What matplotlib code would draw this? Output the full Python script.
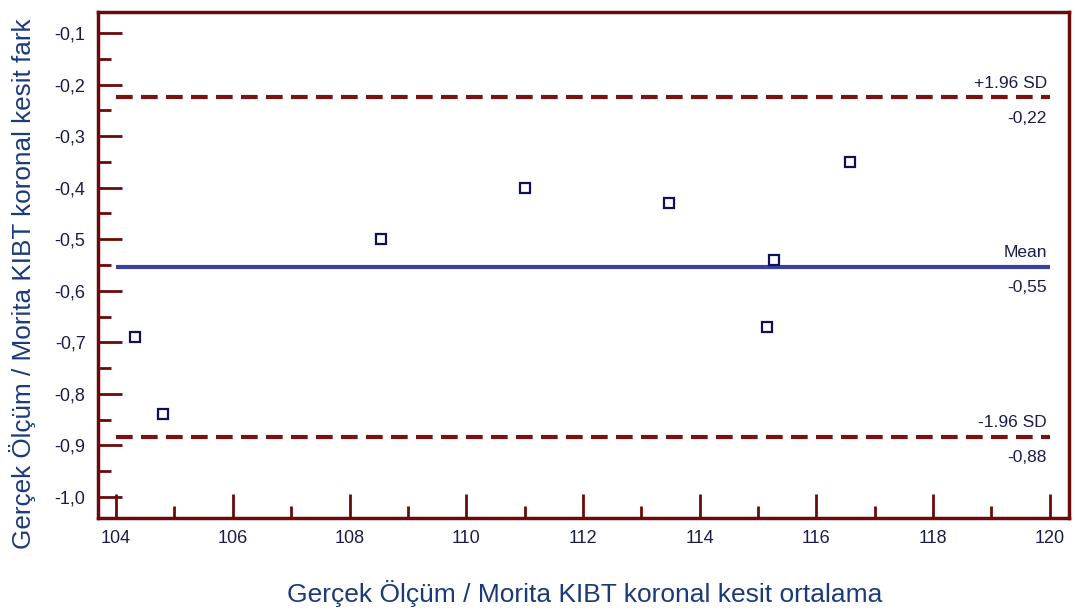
import matplotlib.pyplot as plt
from matplotlib.ticker import MultipleLocator, FuncFormatter

# ortalama (x) ve fark (y) degerleri
ortalama = [104.33, 104.80, 108.54, 111.0, 113.47, 115.15, 115.27, 116.57]
fark = [-0.69, -0.84, -0.50, -0.40, -0.43, -0.67, -0.54, -0.35]

mean_diff = -0.553
upper_loa = -0.224
lower_loa = -0.883
mean_txt = '-0,55'
upper_txt = '-0,22'
lower_txt = '-0,88'

frame_col = '#6a0a0a'
dash_col = '#7a1212'
mean_col = '#3b3f9e'
mark_col = '#10105a'
tick_txt = '#1c1c4c'
label_col = '#1b3a7a'

plt.rcParams['font.family'] = ['Liberation Sans', 'DejaVu Sans']

fig = plt.figure(figsize=(10.75, 6.12), dpi=100)
ax = fig.add_axes([0.0912, 0.1536, 0.9032, 0.8268])

ax.plot(ortalama, fark, linestyle='none', marker='s', markersize=7,
        markerfacecolor='white', markeredgecolor=mark_col, markeredgewidth=1.6, zorder=3)

x0, x1 = 104, 120
ax.hlines(upper_loa, x0, x1, colors=dash_col, linewidth=3, linestyles=(0, (4, 2)))
ax.hlines(lower_loa, x0, x1, colors=dash_col, linewidth=3, linestyles=(0, (4, 2)))
ax.hlines(mean_diff, x0, x1, colors=mean_col, linewidth=3)

tx = 119.95
for yv, top, bot in [(upper_loa, '+1.96 SD', upper_txt),
                     (mean_diff, 'Mean', mean_txt),
                     (lower_loa, '-1.96 SD', lower_txt)]:
    ax.text(tx, yv + 0.012, top, ha='right', va='bottom', fontsize=12.5, color=tick_txt)
    ax.text(tx, yv - 0.027, bot, ha='right', va='top', fontsize=12.5, color=tick_txt)

ax.set_xlim(103.69, 120.33)
ax.set_ylim(-1.041, -0.059)

ax.xaxis.set_major_locator(MultipleLocator(2))
ax.xaxis.set_minor_locator(MultipleLocator(1))
ax.yaxis.set_major_locator(MultipleLocator(0.1))
ax.yaxis.set_minor_locator(MultipleLocator(0.05))
ax.yaxis.set_major_formatter(FuncFormatter(lambda v, p: f'{v:.1f}'.replace('.', ',')))

ax.tick_params(axis='both', which='major', direction='in', length=17, width=2,
               color=frame_col, labelsize=13, labelcolor=tick_txt)
ax.tick_params(axis='both', which='minor', direction='in', length=9, width=2, color=frame_col)
ax.tick_params(axis='y', which='major', pad=9)
ax.tick_params(axis='x', which='major', pad=9)

for sp in ax.spines.values():
    sp.set_color(frame_col)
    sp.set_linewidth(2.5)

fig.text(0.544, 0.031, 'Gerçek Ölçüm / Morita KIBT koronal kesit ortalama',
         ha='center', va='center', fontsize=19, color=label_col)
fig.text(0.021, 0.103, 'Gerçek Ölçüm / Morita KIBT koronal kesit fark',
         ha='center', va='bottom', rotation=90, fontsize=18.8, color=label_col)

fig.savefig('out.png', dpi=100)
